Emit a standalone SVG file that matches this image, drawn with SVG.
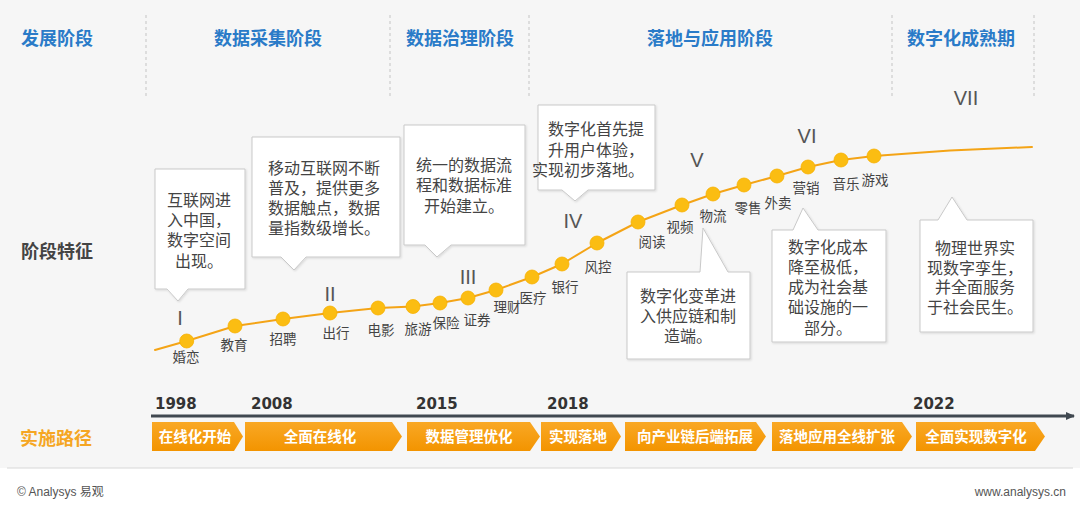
<svg xmlns="http://www.w3.org/2000/svg" width="1080" height="505" viewBox="0 0 1080 505">
<defs>
<style>
.hdr{font-family:"Noto Sans CJK SC","Noto Sans",sans-serif;font-size:18px;font-weight:bold;fill:#2a7bc8;text-anchor:middle}
.side{font-family:"Noto Sans CJK SC",sans-serif;font-size:18px;font-weight:bold}
.box{fill:#ffffff;stroke:#c9c9c9;stroke-width:1}
.bt{font-family:"Noto Sans CJK SC",sans-serif;font-size:16px;fill:#444;text-anchor:middle}
.bts{font-family:"Noto Sans CJK SC",sans-serif;font-size:16px;fill:#444;text-anchor:start}
.lbl{font-family:"Noto Sans CJK SC",sans-serif;font-size:13.5px;fill:#444;text-anchor:middle}
.rom{font-family:"Liberation Sans",Arial,sans-serif;font-size:20px;fill:#555;text-anchor:middle}
.dot{fill:#fbbd12;stroke:#f7b000;stroke-width:0.8}
.yr{font-family:"DejaVu Sans",sans-serif;font-size:15px;font-weight:bold;fill:#333}
.chev{fill:url(#og)}
.ct{font-family:"Noto Sans CJK SC",sans-serif;font-size:14.5px;font-weight:bold;fill:#fff;text-anchor:middle}
.dash{stroke:#c4c4c4;stroke-width:1;stroke-dasharray:3 3}
.ft{font-family:"Liberation Sans",Arial,"Noto Sans CJK SC",sans-serif;font-size:12px;fill:#555}
</style>
<linearGradient id="og" x1="0" y1="0" x2="0" y2="1">
<stop offset="0" stop-color="#f9a825"/>
<stop offset="1" stop-color="#f39400"/>
</linearGradient>
<filter id="sh" x="-10%" y="-10%" width="130%" height="130%">
<feDropShadow dx="1" dy="1" stdDeviation="1.2" flood-color="#000" flood-opacity="0.12"/>
</filter>
<marker id="arr" markerWidth="10" markerHeight="10" refX="8" refY="5" orient="auto" markerUnits="userSpaceOnUse">
<path d="M0,1 L9,5 L0,9 Z" fill="#404850"/>
</marker>
</defs>

<rect x="0" y="0" width="1080" height="505" fill="#ffffff"/>
<rect x="0" y="0" width="1080" height="468" fill="#f6f6f6"/>

<g id="header">
<line class="dash" x1="146" y1="15" x2="146" y2="96"/>
<line class="dash" x1="390" y1="15" x2="390" y2="96"/>
<line class="dash" x1="529" y1="15" x2="529" y2="96"/>
<line class="dash" x1="892" y1="15" x2="892" y2="96"/>
<line class="dash" x1="1034" y1="15" x2="1034" y2="96"/>
<text class="hdr" x="57" y="45">发展阶段</text>
<text class="hdr" x="268" y="45">数据采集阶段</text>
<text class="hdr" x="460" y="45">数据治理阶段</text>
<text class="hdr" x="710" y="45">落地与应用阶段</text>
<text class="hdr" x="961" y="45">数字化成熟期</text>
</g>

<g id="side-labels">
<text class="side" x="57" y="258" fill="#444" text-anchor="middle">阶段特征</text>
<text class="side" x="56" y="445" fill="#f5a623" text-anchor="middle">实施路径</text>
</g>

<g id="connectors">
<polyline fill="none" stroke="#f4a416" stroke-width="2" stroke-linejoin="round" stroke-linecap="round" points="155,350 186.7,341 235,326 283,319 330,313 378,308 413,306.5 440,303 468,298 496,290 532,277 562,264 597,243 638,222 682,205 713,194 744,185 777,176 808,167 841,160 874,156 950,150.5 1032,147"/>
<line x1="151" y1="416" x2="1074" y2="416" stroke="#404850" stroke-width="3" marker-end="url(#arr)"/>
</g>

<g id="curve-dots">
<circle class="dot" cx="186.7" cy="341" r="7"/>
<circle class="dot" cx="235" cy="326" r="7"/>
<circle class="dot" cx="283" cy="319" r="7"/>
<circle class="dot" cx="330" cy="313" r="7"/>
<circle class="dot" cx="378" cy="308" r="7"/>
<circle class="dot" cx="413" cy="306.5" r="7"/>
<circle class="dot" cx="440" cy="303" r="7"/>
<circle class="dot" cx="468" cy="298" r="7"/>
<circle class="dot" cx="496" cy="290" r="7"/>
<circle class="dot" cx="532" cy="277" r="7"/>
<circle class="dot" cx="562" cy="264" r="7"/>
<circle class="dot" cx="597" cy="243" r="7"/>
<circle class="dot" cx="638" cy="222" r="7"/>
<circle class="dot" cx="682" cy="205" r="7"/>
<circle class="dot" cx="713" cy="194" r="7"/>
<circle class="dot" cx="744" cy="185" r="7"/>
<circle class="dot" cx="777" cy="176" r="7"/>
<circle class="dot" cx="808" cy="167" r="7"/>
<circle class="dot" cx="841" cy="160" r="7"/>
<circle class="dot" cx="874" cy="156" r="7"/>
</g>

<g id="curve-labels">
<text class="lbl" x="186" y="362">婚恋</text>
<text class="lbl" x="234" y="350">教育</text>
<text class="lbl" x="283" y="344">招聘</text>
<text class="lbl" x="336" y="338">出行</text>
<text class="lbl" x="381" y="335">电影</text>
<text class="lbl" x="418" y="334">旅游</text>
<text class="lbl" x="446" y="328">保险</text>
<text class="lbl" x="477" y="325">证券</text>
<text class="lbl" x="507" y="312">理财</text>
<text class="lbl" x="533" y="303">医疗</text>
<text class="lbl" x="565" y="292">银行</text>
<text class="lbl" x="598" y="272">风控</text>
<text class="lbl" x="652" y="247">阅读</text>
<text class="lbl" x="680" y="232">视频</text>
<text class="lbl" x="713" y="221">物流</text>
<text class="lbl" x="748" y="213">零售</text>
<text class="lbl" x="778" y="208">外卖</text>
<text class="lbl" x="806" y="193">营销</text>
<text class="lbl" x="846" y="189">音乐</text>
<text class="lbl" x="875" y="185">游戏</text>
</g>

<g id="roman">
<text class="rom" x="180" y="325">I</text>
<text class="rom" x="330" y="301">II</text>
<text class="rom" x="468" y="284">III</text>
<text class="rom" x="573" y="228">IV</text>
<text class="rom" x="697" y="167">V</text>
<text class="rom" x="807" y="143">VI</text>
<text class="rom" x="966" y="105">VII</text>
</g>

<g id="callout-1">
<path class="box" filter="url(#sh)" d="M155,169 H245 V289 H188 L178,301 L167,289 H155 Z"/>
<text class="bt" x="199" y="206">互联网进</text>
<text class="bt" x="199" y="226">入中国，</text>
<text class="bt" x="199" y="246">数字空间</text>
<text class="bt" x="199" y="267">出现。</text>
</g>

<g id="callout-2">
<path class="box" filter="url(#sh)" d="M252,137 H400 V257 H306 L294,270 L281,257 H252 Z"/>
<text class="bt" x="324" y="174">移动互联网不断</text>
<text class="bt" x="324" y="194">普及，提供更多</text>
<text class="bt" x="324" y="214">数据触点，数据</text>
<text class="bt" x="324" y="234">量指数级增长。</text>
</g>

<g id="callout-3">
<path class="box" filter="url(#sh)" d="M404,125 H525 V245 H451 L437,257 L425,245 H404 Z"/>
<text class="bt" x="464" y="171">统一的数据流</text>
<text class="bt" x="464" y="191">程和数据标准</text>
<text class="bt" x="464" y="212">开始建立。</text>
</g>

<g id="callout-4">
<path class="box" filter="url(#sh)" d="M538,105 H655 V190 H588 L575,201 L562,190 H538 Z"/>
<text class="bts" x="548" y="135">数字化首先提</text>
<text class="bts" x="548" y="156">升用户体验，</text>
<text class="bts" x="532" y="176">实现初步落地。</text>
</g>

<g id="callout-5">
<path class="box" filter="url(#sh)" d="M627,272 H700 L703,228 L728,272 H750 V359 H627 Z"/>
<text class="bt" x="688" y="302">数字化变革进</text>
<text class="bt" x="688" y="322">入供应链和制</text>
<text class="bt" x="688" y="342">造端。</text>
</g>

<g id="callout-6">
<path class="box" filter="url(#sh)" d="M772,230 H793 L803,208 L818,230 H886 V342 H772 Z"/>
<text class="bt" x="828" y="253">数字化成本</text>
<text class="bt" x="828" y="273">降至极低，</text>
<text class="bt" x="828" y="293">成为社会基</text>
<text class="bt" x="828" y="313">础设施的一</text>
<text class="bt" x="828" y="334">部分。</text>
</g>

<g id="callout-7">
<path class="box" filter="url(#sh)" d="M920,220 H938 L952,197 L967,220 H1033 V332 H920 Z"/>
<text class="bt" x="975" y="254">物理世界实</text>
<text class="bt" x="975" y="274">现数字孪生，</text>
<text class="bt" x="975" y="293">并全面服务</text>
<text class="bt" x="975" y="313">于社会民生。</text>
</g>

<g id="years">
<text class="yr" x="155" y="409">1998</text>
<text class="yr" x="251" y="409">2008</text>
<text class="yr" x="416" y="409">2015</text>
<text class="yr" x="547" y="409">2018</text>
<text class="yr" x="913" y="409">2022</text>
</g>

<g id="path-1"><path class="chev" d="M152,422 H234 L243,436.5 L234,451 H152 Z"/><text class="ct" x="195" y="442">在线化开始</text></g>
<g id="path-2"><path class="chev" d="M245,422 H392 L402,436.5 L392,451 H245 Z"/><text class="ct" x="320" y="442">全面在线化</text></g>
<g id="path-3"><path class="chev" d="M407,422 H530 L540,436.5 L530,451 H407 Z"/><text class="ct" x="469" y="442">数据管理优化</text></g>
<g id="path-4"><path class="chev" d="M541,422 H612 L621,436.5 L612,451 H541 Z"/><text class="ct" x="578" y="442">实现落地</text></g>
<g id="path-5"><path class="chev" d="M625,422 H756 L766,436.5 L756,451 H625 Z"/><text class="ct" x="695" y="442">向产业链后端拓展</text></g>
<g id="path-6"><path class="chev" d="M772,422 H902 L912,436.5 L902,451 H772 Z"/><text class="ct" x="837" y="442">落地应用全线扩张</text></g>
<g id="path-7"><path class="chev" d="M916,422 H1035 L1045,436.5 L1035,451 H916 Z"/><text class="ct" x="976" y="442">全面实现数字化</text></g>

<g id="footer">
<line x1="7" y1="468" x2="1073" y2="468" stroke="#d8d8d8" stroke-width="1"/>
<text class="ft" x="17" y="496">© Analysys 易观</text>
<text class="ft" x="1066" y="496" text-anchor="end">www.analysys.cn</text>
</g>
</svg>
